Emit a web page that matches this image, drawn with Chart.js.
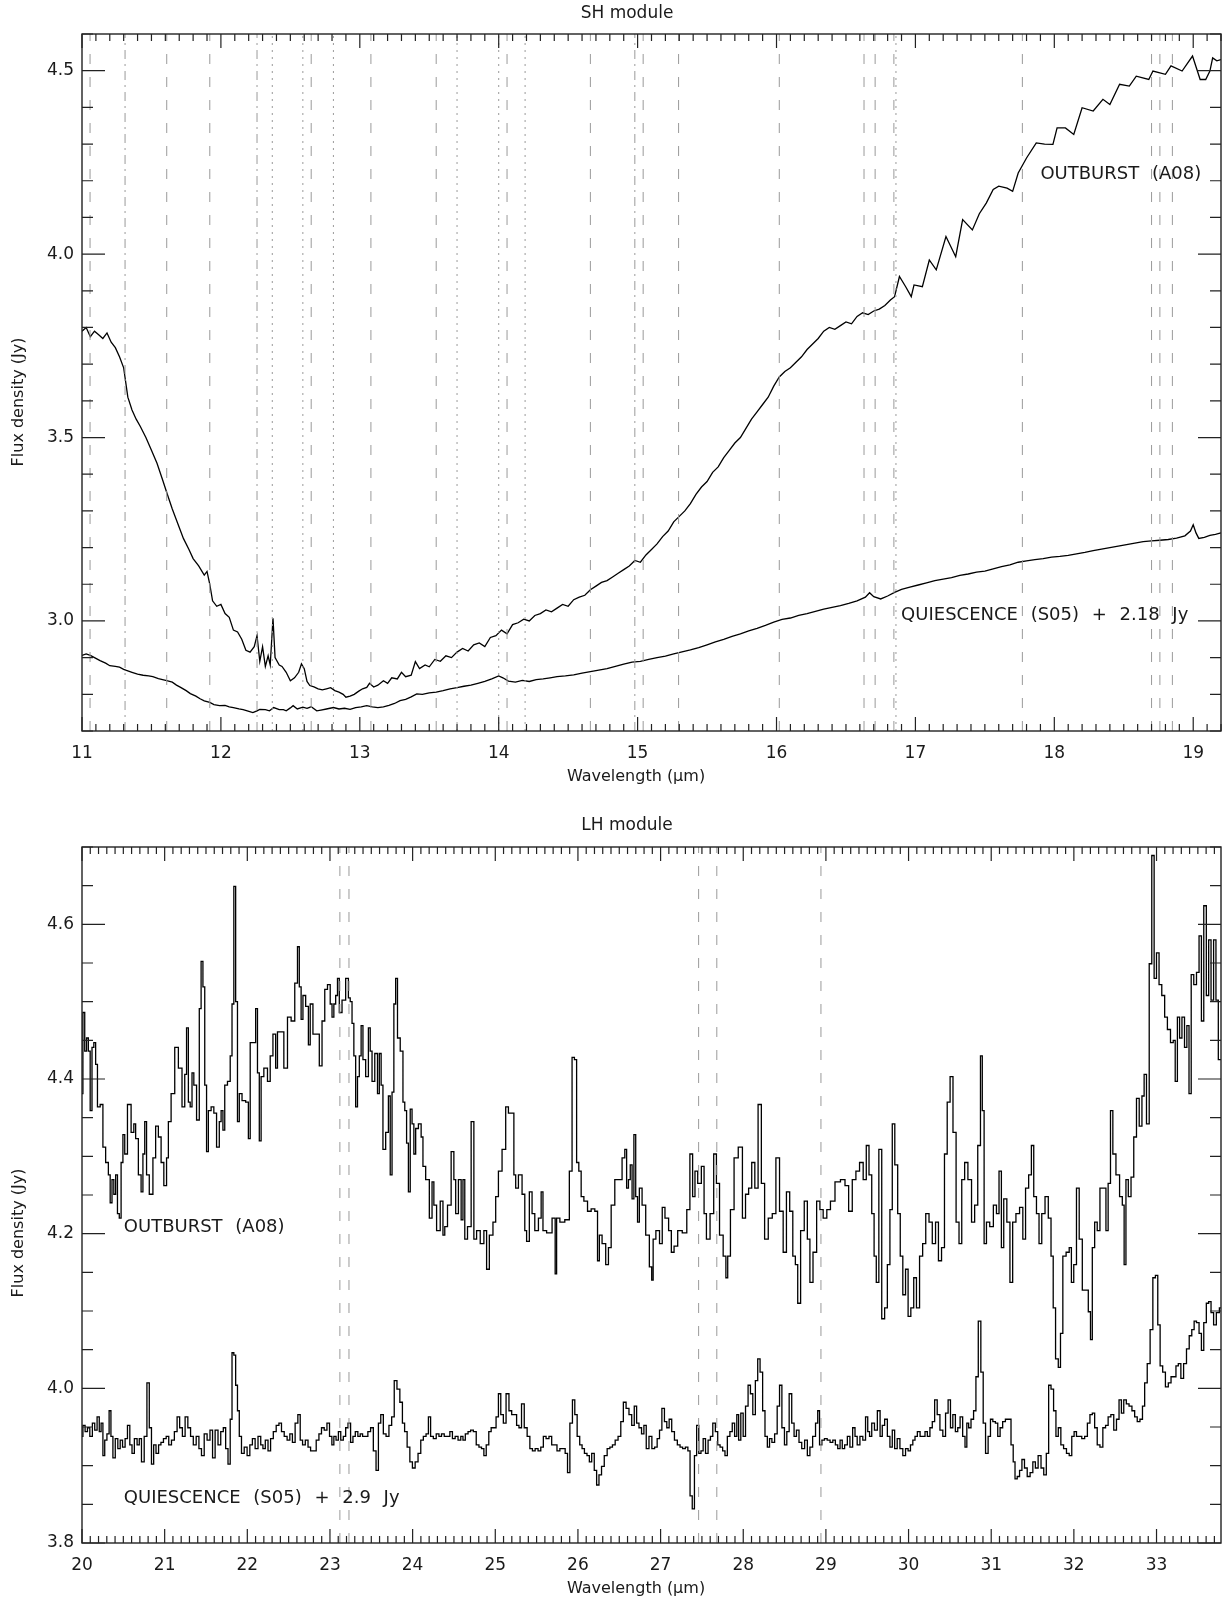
<!DOCTYPE html>
<html>
<head>
<meta charset="utf-8">
<script src="https://cdn.jsdelivr.net/npm/chart.js@4.4.0/dist/chart.umd.min.js"></script>
<style>
  body { margin: 0; background: #fff; width: 1222px; height: 1606px; overflow: hidden; }
  .box { position: absolute; left: 0; width: 1222px; }
</style>
</head>
<body>
<div class="box" style="top:0;height:800px"><canvas id="shChart" width="1222" height="800"></canvas></div>
<div class="box" style="top:800px;height:806px"><canvas id="lhChart" width="1222" height="806"></canvas></div>
<script>
// axis ranges and tick labels
const shWaveRange = [11, 19.2];
const shFluxRange = [2.7, 4.6];
const shWaveTicks = [11, 12, 13, 14, 15, 16, 17, 18, 19];
const shFluxTicks = [3.0, 3.5, 4.0, 4.5];
const lhWaveRange = [20, 33.78];
const lhFluxRange = [3.8, 4.7];
const lhWaveTicks = [20, 21, 22, 23, 24, 25, 26, 27, 28, 29, 30, 31, 32, 33];
const lhFluxTicks = [3.8, 4.0, 4.2, 4.4, 4.6];

// line identifications (wavelength, style)
const shLines = [
  [11.058, 'dash'], [11.31, 'dashdot'], [11.61, 'dash'], [11.92, 'dash'], [12.26, 'dashdot'],
  [12.37, 'dot'], [12.59, 'dot'], [12.65, 'dash'], [12.81, 'dot'], [13.08, 'dash'],
  [13.55, 'dash'], [13.70, 'dot'], [14.00, 'dot'], [14.06, 'dash'], [14.19, 'dot'],
  [14.66, 'dash'], [14.98, 'dashdot'], [15.04, 'dash'], [15.295, 'dash'], [16.02, 'dash'],
  [16.63, 'dash'], [16.71, 'dash'], [16.845, 'dash'], [16.86, 'dot'], [17.77, 'dash'],
  [18.70, 'dash'], [18.76, 'dash'], [18.85, 'dash']
];
const lhLines = [[23.12, 'dash'], [23.23, 'dash'], [27.46, 'dash'], [27.68, 'dash'], [28.94, 'dash']];

// SH module, outburst (A08)
const shOutburst = [
  [11.00,3.790],[11.03,3.800],[11.06,3.775],[11.09,3.790],[11.12,3.780],[11.15,3.770],[11.18,3.785],[11.21,3.760],
  [11.24,3.745],[11.27,3.720],[11.30,3.690],[11.33,3.610],[11.36,3.575],[11.39,3.550],[11.42,3.530],[11.46,3.500],
  [11.50,3.465],[11.54,3.430],[11.58,3.385],[11.61,3.350],[11.65,3.305],[11.69,3.265],[11.73,3.225],[11.77,3.195],
  [11.80,3.170],[11.84,3.150],[11.88,3.125],[11.90,3.135],[11.92,3.100],[11.94,3.055],[11.97,3.040],[12.00,3.045],
  [12.03,3.020],[12.06,3.010],[12.09,2.975],[12.12,2.970],[12.15,2.950],[12.18,2.920],[12.21,2.915],[12.24,2.930],
  [12.26,2.960],[12.28,2.890],[12.30,2.930],[12.32,2.876],[12.34,2.905],[12.355,2.880],[12.375,3.007],[12.39,2.900],
  [12.42,2.880],[12.44,2.876],[12.47,2.860],[12.50,2.837],[12.53,2.845],[12.56,2.860],[12.58,2.883],[12.60,2.870],
  [12.62,2.835],[12.64,2.824],[12.67,2.820],[12.70,2.815],[12.73,2.812],[12.76,2.815],[12.79,2.818],[12.82,2.810],
  [12.85,2.806],[12.88,2.800],[12.90,2.792],[12.93,2.795],[12.96,2.800],[12.99,2.808],[13.02,2.815],[13.05,2.819],
  [13.07,2.830],[13.10,2.820],[13.13,2.825],[13.17,2.837],[13.20,2.830],[13.23,2.845],[13.27,2.842],[13.30,2.860],
  [13.33,2.848],[13.37,2.852],[13.40,2.889],[13.43,2.870],[13.47,2.880],[13.50,2.875],[13.54,2.895],[13.58,2.890],
  [13.62,2.905],[13.66,2.900],[13.70,2.915],[13.74,2.925],[13.78,2.918],[13.82,2.935],[13.86,2.940],[13.90,2.930],
  [13.94,2.955],[13.98,2.960],[14.02,2.975],[14.06,2.965],[14.10,2.990],[14.14,2.995],[14.18,3.005],[14.22,3.000],
  [14.26,3.015],[14.30,3.020],[14.34,3.030],[14.38,3.025],[14.42,3.035],[14.46,3.045],[14.50,3.040],[14.54,3.058],
  [14.58,3.065],[14.62,3.070],[14.66,3.085],[14.70,3.095],[14.74,3.105],[14.78,3.110],[14.82,3.120],[14.86,3.130],
  [14.90,3.140],[14.94,3.150],[14.98,3.165],[15.02,3.160],[15.06,3.180],[15.10,3.195],[15.14,3.210],[15.18,3.230],
  [15.22,3.245],[15.26,3.270],[15.30,3.285],[15.34,3.300],[15.38,3.320],[15.42,3.345],[15.46,3.365],[15.50,3.380],
  [15.54,3.405],[15.58,3.420],[15.62,3.445],[15.66,3.465],[15.70,3.485],[15.74,3.500],[15.78,3.525],[15.82,3.550],
  [15.86,3.570],[15.90,3.590],[15.94,3.610],[15.98,3.640],[16.02,3.665],[16.06,3.680],[16.10,3.690],[16.14,3.705],
  [16.18,3.720],[16.22,3.740],[16.26,3.755],[16.30,3.770],[16.34,3.790],[16.38,3.800],[16.42,3.795],[16.46,3.805],
  [16.50,3.815],[16.54,3.810],[16.58,3.830],[16.62,3.840],[16.66,3.835],[16.70,3.845],[16.74,3.850],[16.78,3.860],
  [16.82,3.875],[16.85,3.884],[16.885,3.939],[16.93,3.911],[16.97,3.884],[16.99,3.916],[17.05,3.911],[17.10,3.984],
  [17.15,3.957],[17.22,4.048],[17.29,3.993],[17.34,4.094],[17.41,4.066],[17.46,4.110],[17.51,4.139],[17.56,4.176],
  [17.60,4.185],[17.66,4.180],[17.70,4.171],[17.74,4.221],[17.80,4.262],[17.87,4.303],[17.93,4.300],[17.99,4.299],
  [18.02,4.344],[18.08,4.344],[18.14,4.326],[18.20,4.399],[18.28,4.390],[18.35,4.422],[18.40,4.408],[18.47,4.463],
  [18.54,4.458],[18.59,4.485],[18.68,4.476],[18.71,4.499],[18.80,4.490],[18.84,4.513],[18.92,4.499],[18.995,4.540],
  [19.03,4.499],[19.05,4.476],[19.09,4.476],[19.12,4.499],[19.14,4.535],[19.17,4.527],[19.20,4.530]
];

// SH module, quiescence (S05) + 2.18 Jy
const shQuiescence = [
  [11.00,2.906],[11.03,2.910],[11.06,2.906],[11.10,2.898],[11.13,2.892],[11.17,2.885],[11.20,2.878],[11.24,2.876],
  [11.27,2.874],[11.30,2.868],[11.32,2.865],[11.36,2.860],[11.40,2.855],[11.44,2.852],[11.48,2.850],[11.51,2.848],
  [11.55,2.843],[11.58,2.840],[11.61,2.837],[11.65,2.833],[11.68,2.825],[11.71,2.819],[11.75,2.810],[11.78,2.802],
  [11.82,2.795],[11.85,2.788],[11.88,2.782],[11.92,2.778],[11.95,2.772],[11.99,2.769],[12.03,2.770],[12.06,2.766],
  [12.09,2.764],[12.13,2.760],[12.16,2.758],[12.19,2.755],[12.23,2.750],[12.26,2.755],[12.28,2.759],[12.32,2.758],
  [12.35,2.755],[12.38,2.764],[12.42,2.758],[12.45,2.758],[12.47,2.755],[12.50,2.763],[12.52,2.769],[12.55,2.760],
  [12.59,2.765],[12.62,2.762],[12.65,2.766],[12.69,2.755],[12.72,2.757],[12.76,2.760],[12.81,2.764],[12.85,2.760],
  [12.89,2.762],[12.93,2.759],[12.97,2.764],[13.01,2.766],[13.05,2.769],[13.09,2.766],[13.13,2.764],[13.17,2.766],
  [13.21,2.770],[13.25,2.775],[13.29,2.783],[13.33,2.786],[13.37,2.793],[13.41,2.801],[13.45,2.800],[13.50,2.804],
  [13.55,2.806],[13.60,2.810],[13.65,2.815],[13.70,2.818],[13.75,2.822],[13.80,2.825],[13.85,2.830],[13.90,2.835],
  [13.95,2.842],[14.00,2.850],[14.03,2.845],[14.07,2.836],[14.12,2.833],[14.17,2.838],[14.22,2.835],[14.27,2.840],
  [14.32,2.842],[14.37,2.845],[14.42,2.848],[14.48,2.850],[14.54,2.853],[14.60,2.858],[14.66,2.862],[14.72,2.866],
  [14.78,2.870],[14.84,2.876],[14.90,2.882],[14.96,2.888],[15.02,2.890],[15.08,2.895],[15.14,2.900],[15.20,2.904],
  [15.26,2.910],[15.32,2.916],[15.38,2.921],[15.44,2.927],[15.50,2.935],[15.56,2.943],[15.62,2.950],[15.68,2.958],
  [15.74,2.965],[15.80,2.973],[15.86,2.980],[15.92,2.988],[15.98,2.997],[16.04,3.004],[16.10,3.008],[16.16,3.015],
  [16.22,3.020],[16.28,3.026],[16.34,3.032],[16.40,3.037],[16.46,3.042],[16.52,3.048],[16.58,3.055],[16.64,3.065],
  [16.67,3.077],[16.70,3.066],[16.75,3.060],[16.80,3.068],[16.85,3.078],[16.90,3.086],[16.96,3.092],[17.02,3.098],
  [17.08,3.104],[17.14,3.110],[17.20,3.114],[17.26,3.118],[17.32,3.124],[17.38,3.128],[17.44,3.133],[17.50,3.136],
  [17.56,3.142],[17.62,3.148],[17.68,3.153],[17.74,3.160],[17.80,3.164],[17.86,3.167],[17.92,3.170],[17.98,3.174],
  [18.04,3.176],[18.10,3.179],[18.16,3.183],[18.22,3.187],[18.28,3.192],[18.34,3.196],[18.40,3.200],[18.46,3.204],
  [18.52,3.208],[18.58,3.212],[18.64,3.216],[18.70,3.218],[18.76,3.220],[18.82,3.222],[18.88,3.226],[18.94,3.232],
  [18.98,3.245],[19.00,3.262],[19.02,3.240],[19.04,3.225],[19.08,3.228],[19.12,3.233],[19.16,3.236],[19.20,3.240]
];

// LH module, outburst (A08)
const lhOutburst = [
  [20.000,4.381],[20.022,4.486],[20.044,4.436],[20.066,4.453],[20.088,4.436],[20.110,4.359],[20.132,4.441],[20.154,4.447],
  [20.176,4.419],[20.198,4.364],[20.242,4.367],[20.264,4.312],[20.308,4.292],[20.330,4.276],[20.352,4.240],[20.374,4.270],
  [20.396,4.251],[20.418,4.276],[20.440,4.226],[20.462,4.220],[20.484,4.292],[20.506,4.328],[20.528,4.303],[20.572,4.367],
  [20.616,4.331],[20.638,4.342],[20.660,4.323],[20.704,4.276],[20.726,4.254],[20.748,4.303],[20.770,4.345],[20.792,4.276],
  [20.836,4.251],[20.880,4.298],[20.902,4.339],[20.946,4.325],[20.968,4.292],[21.012,4.262],[21.034,4.298],[21.056,4.345],
  [21.100,4.381],[21.144,4.441],[21.188,4.414],[21.232,4.364],[21.254,4.406],[21.276,4.466],[21.298,4.370],[21.320,4.364],
  [21.342,4.408],[21.364,4.392],[21.408,4.347],[21.430,4.491],[21.452,4.552],[21.474,4.519],[21.496,4.392],[21.518,4.306],
  [21.540,4.359],[21.584,4.364],[21.606,4.356],[21.650,4.312],[21.672,4.345],[21.694,4.359],[21.716,4.334],[21.738,4.392],
  [21.782,4.397],[21.804,4.430],[21.826,4.497],[21.848,4.649],[21.870,4.500],[21.892,4.345],[21.914,4.381],[21.958,4.372],
  [22.002,4.370],[22.024,4.323],[22.046,4.447],[22.090,4.447],[22.112,4.491],[22.134,4.408],[22.156,4.320],[22.178,4.403],
  [22.222,4.414],[22.266,4.397],[22.288,4.430],[22.332,4.458],[22.354,4.414],[22.376,4.461],[22.420,4.461],[22.464,4.414],
  [22.508,4.480],[22.552,4.475],[22.596,4.524],[22.618,4.571],[22.640,4.519],[22.662,4.477],[22.684,4.508],[22.728,4.494],
  [22.750,4.444],[22.772,4.497],[22.816,4.458],[22.860,4.458],[22.882,4.417],[22.926,4.475],[22.948,4.516],[22.992,4.522],
  [23.014,4.497],[23.036,4.480],[23.058,4.497],[23.080,4.508],[23.102,4.530],[23.124,4.486],[23.168,4.502],[23.212,4.530],
  [23.234,4.505],[23.256,4.500],[23.278,4.472],[23.300,4.430],[23.322,4.364],[23.344,4.403],[23.366,4.430],[23.388,4.469],
  [23.410,4.425],[23.454,4.403],[23.476,4.466],[23.498,4.436],[23.520,4.397],[23.564,4.433],[23.586,4.381],[23.608,4.433],
  [23.630,4.392],[23.652,4.309],[23.696,4.331],[23.718,4.378],[23.740,4.276],[23.762,4.383],[23.784,4.497],[23.806,4.530],
  [23.828,4.453],[23.872,4.436],[23.894,4.370],[23.916,4.359],[23.938,4.317],[23.960,4.254],[23.982,4.361],[24.004,4.342],
  [24.026,4.303],[24.048,4.336],[24.092,4.342],[24.114,4.325],[24.136,4.287],[24.180,4.270],[24.224,4.220],[24.246,4.267],
  [24.268,4.237],[24.312,4.204],[24.356,4.242],[24.378,4.198],[24.400,4.209],[24.444,4.237],[24.488,4.306],[24.510,4.270],
  [24.532,4.226],[24.576,4.270],[24.598,4.218],[24.620,4.270],[24.642,4.193],[24.686,4.209],[24.730,4.345],[24.752,4.193],
  [24.796,4.204],[24.840,4.187],[24.884,4.204],[24.906,4.154],[24.950,4.198],[24.994,4.215],[25.016,4.248],[25.060,4.281],
  [25.104,4.309],[25.148,4.364],[25.170,4.356],[25.214,4.356],[25.236,4.276],[25.258,4.259],[25.302,4.276],[25.346,4.251],
  [25.368,4.204],[25.390,4.190],[25.434,4.254],[25.456,4.226],[25.500,4.204],[25.544,4.220],[25.566,4.254],[25.588,4.204],
  [25.654,4.201],[25.720,4.220],[25.729,4.148],[25.755,4.220],[25.808,4.215],[25.874,4.218],[25.918,4.281],[25.940,4.428],
  [25.975,4.425],[25.993,4.292],[26.028,4.281],[26.050,4.248],[26.094,4.242],[26.138,4.229],[26.182,4.232],[26.226,4.229],
  [26.248,4.165],[26.270,4.198],[26.314,4.187],[26.358,4.160],[26.380,4.182],[26.424,4.237],[26.468,4.270],[26.512,4.270],
  [26.556,4.298],[26.578,4.309],[26.600,4.259],[26.622,4.270],[26.644,4.289],[26.666,4.245],[26.688,4.328],[26.710,4.248],
  [26.732,4.215],[26.754,4.259],[26.798,4.237],[26.842,4.198],[26.886,4.157],[26.899,4.140],[26.921,4.193],[26.965,4.204],
  [27.009,4.187],[27.031,4.234],[27.075,4.220],[27.119,4.204],[27.141,4.176],[27.185,4.184],[27.229,4.204],[27.295,4.201],
  [27.339,4.231],[27.370,4.303],[27.405,4.248],[27.427,4.281],[27.471,4.265],[27.515,4.287],[27.537,4.226],[27.572,4.193],
  [27.625,4.226],[27.660,4.303],[27.691,4.265],[27.735,4.198],[27.779,4.171],[27.801,4.143],[27.823,4.171],[27.867,4.231],
  [27.911,4.298],[27.968,4.312],[28.012,4.220],[28.043,4.251],[28.087,4.259],[28.118,4.292],[28.162,4.259],[28.197,4.367],
  [28.241,4.265],[28.276,4.193],[28.329,4.220],[28.373,4.226],[28.417,4.298],[28.461,4.229],[28.505,4.176],[28.540,4.254],
  [28.584,4.229],[28.615,4.171],[28.646,4.160],[28.672,4.110],[28.716,4.204],[28.760,4.242],[28.791,4.193],[28.822,4.137],
  [28.866,4.176],[28.910,4.242],[28.945,4.231],[28.989,4.220],[29.033,4.231],[29.077,4.242],[29.143,4.267],[29.209,4.270],
  [29.253,4.262],[29.297,4.229],[29.341,4.270],[29.385,4.281],[29.429,4.292],[29.473,4.270],[29.504,4.314],[29.539,4.276],
  [29.570,4.226],[29.596,4.171],[29.623,4.137],[29.658,4.309],[29.693,4.090],[29.728,4.104],[29.759,4.160],[29.790,4.231],
  [29.816,4.342],[29.851,4.289],[29.886,4.226],[29.913,4.171],[29.948,4.121],[29.979,4.154],[30.010,4.093],[30.045,4.104],
  [30.080,4.143],[30.111,4.104],[30.155,4.171],[30.186,4.187],[30.230,4.226],[30.265,4.215],[30.309,4.187],[30.344,4.215],
  [30.379,4.165],[30.419,4.182],[30.450,4.303],[30.485,4.370],[30.520,4.403],[30.555,4.331],[30.595,4.215],[30.626,4.187],
  [30.661,4.270],[30.696,4.292],[30.740,4.270],[30.784,4.215],[30.815,4.237],[30.859,4.314],[30.881,4.430],[30.903,4.359],
  [30.925,4.187],[30.960,4.215],[31.004,4.209],[31.048,4.237],[31.079,4.226],[31.110,4.281],[31.136,4.182],[31.167,4.245],
  [31.211,4.215],[31.242,4.137],[31.277,4.215],[31.321,4.226],[31.365,4.234],[31.400,4.193],[31.431,4.259],[31.475,4.276],
  [31.497,4.314],[31.532,4.248],[31.563,4.226],[31.594,4.187],[31.629,4.226],[31.673,4.248],[31.708,4.220],[31.739,4.171],
  [31.761,4.104],[31.796,4.038],[31.827,4.027],[31.849,4.071],[31.884,4.171],[31.928,4.176],[31.959,4.182],[31.981,4.137],
  [32.016,4.160],[32.047,4.259],[32.082,4.193],[32.122,4.127],[32.157,4.127],[32.192,4.099],[32.210,4.063],[32.236,4.182],
  [32.267,4.215],[32.298,4.204],[32.333,4.259],[32.377,4.259],[32.399,4.204],[32.430,4.265],[32.456,4.359],[32.487,4.303],
  [32.531,4.276],[32.575,4.248],[32.597,4.237],[32.619,4.160],[32.641,4.270],[32.676,4.248],[32.707,4.273],[32.742,4.325],
  [32.773,4.375],[32.808,4.339],[32.839,4.378],[32.861,4.406],[32.896,4.342],[32.927,4.549],[32.958,4.689],[32.984,4.530],
  [33.015,4.563],[33.046,4.522],[33.081,4.508],[33.116,4.480],[33.147,4.464],[33.191,4.447],[33.213,4.450],[33.239,4.397],
  [33.266,4.480],[33.292,4.453],[33.323,4.480],[33.354,4.441],[33.380,4.469],[33.406,4.381],[33.433,4.535],[33.468,4.522],
  [33.499,4.538],[33.530,4.585],[33.556,4.475],[33.587,4.624],[33.618,4.508],[33.644,4.580],[33.675,4.502],[33.706,4.580],
  [33.732,4.502],[33.763,4.425],[33.780,4.425]
];

// LH module, quiescence (S05) + 2.9 Jy
const lhQuiescence = [
  [20.000,3.938],[20.022,3.952],[20.053,3.944],[20.079,3.949],[20.110,3.938],[20.141,3.955],[20.167,3.946],[20.198,3.963],
  [20.220,3.944],[20.242,3.955],[20.264,3.913],[20.286,3.933],[20.317,3.941],[20.339,3.971],[20.361,3.938],[20.387,3.910],
  [20.418,3.935],[20.449,3.922],[20.475,3.933],[20.506,3.924],[20.537,3.935],[20.563,3.952],[20.594,3.927],[20.616,3.916],
  [20.651,3.935],[20.682,3.927],[20.704,3.935],[20.735,3.905],[20.770,3.938],[20.801,4.007],[20.827,3.949],[20.854,3.902],
  [20.880,3.927],[20.911,3.916],[20.942,3.927],[20.968,3.930],[21.003,3.935],[21.034,3.938],[21.065,3.927],[21.100,3.933],
  [21.135,3.944],[21.166,3.963],[21.197,3.949],[21.232,3.938],[21.263,3.963],[21.298,3.949],[21.329,3.938],[21.364,3.927],
  [21.399,3.938],[21.430,3.922],[21.461,3.913],[21.496,3.941],[21.531,3.933],[21.566,3.946],[21.593,3.910],[21.628,3.946],
  [21.663,3.927],[21.694,3.944],[21.725,3.949],[21.751,3.922],[21.782,3.902],[21.804,3.960],[21.826,4.046],[21.848,4.043],
  [21.870,4.004],[21.892,3.971],[21.914,3.938],[21.945,3.916],[21.980,3.924],[22.015,3.913],[22.046,3.927],[22.077,3.935],
  [22.112,3.922],[22.147,3.938],[22.178,3.927],[22.200,3.922],[22.235,3.933],[22.266,3.919],[22.297,3.935],[22.332,3.944],
  [22.367,3.952],[22.398,3.955],[22.429,3.944],[22.464,3.938],[22.499,3.933],[22.530,3.941],[22.561,3.930],[22.596,3.955],
  [22.627,3.966],[22.653,3.933],[22.684,3.927],[22.719,3.933],[22.750,3.924],[22.781,3.919],[22.816,3.919],[22.851,3.933],
  [22.882,3.941],[22.913,3.949],[22.948,3.946],[22.979,3.955],[23.010,3.938],[23.036,3.927],[23.058,3.938],[23.089,3.933],
  [23.115,3.944],[23.146,3.933],[23.177,3.938],[23.203,3.949],[23.234,3.955],[23.265,3.930],[23.291,3.938],[23.322,3.944],
  [23.353,3.938],[23.379,3.941],[23.410,3.938],[23.441,3.938],[23.476,3.944],[23.507,3.949],[23.542,3.919],[23.573,3.894],
  [23.599,3.955],[23.630,3.966],[23.661,3.941],[23.696,3.938],[23.731,3.952],[23.762,3.963],[23.793,4.010],[23.828,3.999],
  [23.863,3.982],[23.890,3.955],[23.916,3.944],[23.951,3.924],[23.982,3.905],[24.013,3.897],[24.048,3.905],[24.083,3.916],
  [24.114,3.933],[24.145,3.938],[24.180,3.941],[24.202,3.963],[24.233,3.938],[24.268,3.935],[24.303,3.941],[24.334,3.938],
  [24.365,3.941],[24.400,3.938],[24.435,3.938],[24.466,3.944],[24.497,3.935],[24.532,3.938],[24.567,3.933],[24.598,3.938],
  [24.620,3.933],[24.655,3.941],[24.686,3.944],[24.717,3.946],[24.752,3.944],[24.787,3.927],[24.818,3.924],[24.849,3.922],
  [24.875,3.913],[24.906,3.927],[24.937,3.944],[24.963,3.949],[24.994,3.949],[25.025,3.963],[25.051,3.993],[25.082,3.966],
  [25.113,3.955],[25.148,3.993],[25.183,3.971],[25.214,3.966],[25.245,3.966],[25.271,3.952],[25.302,3.949],[25.333,3.980],
  [25.368,3.949],[25.403,3.938],[25.434,3.922],[25.465,3.919],[25.500,3.922],[25.535,3.919],[25.566,3.924],[25.597,3.938],
  [25.632,3.935],[25.667,3.938],[25.698,3.927],[25.729,3.927],[25.764,3.919],[25.799,3.922],[25.830,3.922],[25.861,3.916],
  [25.887,3.891],[25.918,3.955],[25.949,3.985],[25.975,3.966],[26.006,3.938],[26.037,3.927],[26.063,3.922],[26.094,3.916],
  [26.125,3.913],[26.151,3.905],[26.182,3.916],[26.213,3.894],[26.239,3.875],[26.270,3.888],[26.301,3.899],[26.336,3.913],
  [26.371,3.922],[26.402,3.924],[26.433,3.927],[26.468,3.933],[26.503,3.938],[26.534,3.957],[26.565,3.982],[26.600,3.974],
  [26.635,3.966],[26.666,3.952],[26.697,3.977],[26.723,3.955],[26.754,3.949],[26.785,3.941],[26.811,3.952],[26.842,3.922],
  [26.877,3.938],[26.912,3.922],[26.943,3.924],[26.974,3.935],[27.000,3.946],[27.031,3.974],[27.062,3.957],[27.088,3.949],
  [27.119,3.960],[27.150,3.944],[27.185,3.933],[27.220,3.927],[27.251,3.924],[27.282,3.922],[27.317,3.924],[27.343,3.919],
  [27.370,3.861],[27.396,3.844],[27.423,3.913],[27.449,3.952],[27.475,3.916],[27.502,3.919],[27.528,3.935],[27.559,3.916],
  [27.590,3.933],[27.616,3.938],[27.647,3.955],[27.678,3.944],[27.704,3.927],[27.735,3.924],[27.766,3.919],[27.792,3.913],
  [27.823,3.938],[27.854,3.944],[27.880,3.955],[27.911,3.938],[27.933,3.966],[27.955,3.933],[27.986,3.968],[28.012,3.938],
  [28.043,3.977],[28.074,4.004],[28.100,3.993],[28.131,3.966],[28.162,4.010],[28.188,4.038],[28.219,4.021],[28.250,3.971],
  [28.276,3.938],[28.307,3.924],[28.329,3.935],[28.364,3.930],[28.395,3.941],[28.426,3.977],[28.452,4.004],[28.483,3.949],
  [28.514,3.927],[28.540,3.944],[28.571,3.993],[28.602,3.955],[28.628,3.938],[28.659,3.946],[28.690,3.930],[28.725,3.922],
  [28.760,3.933],[28.791,3.913],[28.822,3.924],[28.857,3.938],[28.892,3.955],[28.910,3.971],[28.936,3.927],[28.967,3.933],
  [28.998,3.935],[29.033,3.933],[29.068,3.930],[29.099,3.933],[29.130,3.927],[29.156,3.922],[29.187,3.933],[29.209,3.922],
  [29.244,3.927],[29.275,3.938],[29.306,3.924],[29.341,3.949],[29.363,3.938],[29.394,3.927],[29.429,3.938],[29.464,3.933],
  [29.495,3.963],[29.517,3.944],[29.539,3.938],[29.570,3.955],[29.605,3.946],[29.640,3.971],[29.671,3.938],[29.693,3.952],
  [29.728,3.960],[29.759,3.938],[29.790,3.924],[29.816,3.946],[29.847,3.922],[29.878,3.935],[29.913,3.922],[29.948,3.913],
  [29.979,3.922],[30.010,3.919],[30.036,3.927],[30.067,3.933],[30.089,3.938],[30.124,3.944],[30.155,3.938],[30.186,3.938],
  [30.212,3.944],[30.243,3.938],[30.274,3.949],[30.300,3.957],[30.331,3.985],[30.362,3.966],[30.397,3.946],[30.432,3.938],
  [30.463,3.968],[30.494,3.985],[30.520,3.949],[30.551,3.966],[30.582,3.944],[30.608,3.949],[30.639,3.963],[30.670,3.938],
  [30.696,3.924],[30.714,3.955],[30.740,3.949],[30.771,3.960],[30.802,3.971],[30.828,4.015],[30.859,4.087],[30.890,4.021],
  [30.916,3.955],[30.947,3.916],[30.978,3.938],[31.004,3.960],[31.035,3.957],[31.066,3.955],[31.092,3.938],[31.123,3.949],
  [31.154,3.957],[31.189,3.960],[31.224,3.960],[31.255,3.927],[31.277,3.905],[31.299,3.883],[31.330,3.886],[31.356,3.894],
  [31.387,3.908],[31.418,3.897],[31.453,3.886],[31.488,3.891],[31.519,3.905],[31.550,3.897],[31.585,3.913],[31.620,3.897],
  [31.651,3.888],[31.682,3.916],[31.708,4.004],[31.739,3.999],[31.770,3.971],[31.796,3.938],[31.827,3.949],[31.858,3.927],
  [31.893,3.922],[31.928,3.916],[31.959,3.913],[31.990,3.938],[32.016,3.944],[32.047,3.938],[32.078,3.938],[32.113,3.935],
  [32.148,3.938],[32.179,3.955],[32.210,3.966],[32.236,3.968],[32.267,3.949],[32.298,3.927],[32.333,3.924],[32.368,3.949],
  [32.399,3.952],[32.430,3.963],[32.465,3.966],[32.500,3.946],[32.531,3.960],[32.562,3.985],[32.588,3.968],[32.619,3.985],
  [32.650,3.980],[32.685,3.977],[32.720,3.971],[32.751,3.963],[32.782,3.957],[32.817,3.960],[32.843,3.977],[32.870,4.007],
  [32.905,4.032],[32.940,4.076],[32.971,4.143],[33.002,4.146],[33.028,4.082],[33.059,4.029],[33.090,4.021],[33.125,4.002],
  [33.160,4.007],[33.191,4.015],[33.222,4.015],[33.248,4.029],[33.279,4.032],[33.310,4.013],[33.345,4.032],[33.380,4.051],
  [33.411,4.068],[33.442,4.076],[33.468,4.087],[33.499,4.085],[33.530,4.071],[33.556,4.049],[33.587,4.085],[33.618,4.110],
  [33.644,4.112],[33.675,4.098],[33.706,4.082],[33.741,4.098],[33.780,4.104]
];

const FONT = '"DejaVu Sans", sans-serif';
const INK = '#1a1a1a';
const dashStyles = { dash: [10, 13], dashdot: [9, 5, 2, 5], dot: [2, 5] };

function markerSets(lines, yr) {
  return lines.map(l => ({
    data: [{ x: l[0], y: yr[0] }, { x: l[0], y: yr[1] }],
    borderColor: '#9a9a9a',
    borderWidth: 1,
    borderDash: dashStyles[l[1]],
    pointRadius: 0,
    tension: 0
  }));
}

// SH spectra are finely binned (drawn as a jagged line), LH ones as a histogram
function spectrum(points, stepped) {
  return {
    data: points.map(p => ({ x: p[0], y: p[1] })),
    borderColor: '#000',
    borderWidth: 1.3,
    pointRadius: 0,
    tension: 0,
    stepped: stepped ? 'middle' : false
  };
}

// frame with inward ticks on all four sides, plus the texts of the panel
const idlFrame = {
  id: 'idlFrame',
  afterDatasetsDraw(chart, args, o) {
    const { ctx, chartArea: a, scales: { x, y } } = chart;
    ctx.save();
    ctx.strokeStyle = '#222';
    ctx.lineWidth = 1.4;
    ctx.strokeRect(a.left, a.top, a.right - a.left, a.bottom - a.top);
    ctx.lineWidth = 1.2;
    ctx.beginPath();
    for (let i = Math.ceil(x.min / o.xMinor - 1e-6); i * o.xMinor <= x.max + 1e-6; i++) {
      const v = i * o.xMinor;
      const major = Math.abs(v / o.xMajor - Math.round(v / o.xMajor)) < 1e-6;
      const len = major ? 14 : 7;
      const px = x.getPixelForValue(v);
      ctx.moveTo(px, a.bottom); ctx.lineTo(px, a.bottom - len);
      ctx.moveTo(px, a.top); ctx.lineTo(px, a.top + len);
    }
    for (let i = Math.ceil(y.min / o.yMinor - 1e-6); i * o.yMinor <= y.max + 1e-6; i++) {
      const v = i * o.yMinor;
      const major = Math.abs(v / o.yMajor - Math.round(v / o.yMajor)) < 1e-6;
      const len = major ? 23 : 11;
      const py = y.getPixelForValue(v);
      ctx.moveTo(a.left, py); ctx.lineTo(a.left + len, py);
      ctx.moveTo(a.right, py); ctx.lineTo(a.right - len, py);
    }
    ctx.stroke();

    ctx.fillStyle = INK;
    ctx.textBaseline = 'middle';
    ctx.textAlign = 'center';
    ctx.font = '17px ' + FONT;
    ctx.fillText(o.title, 627, o.titleY);
    ctx.font = '16px ' + FONT;
    ctx.fillText('Wavelength (\u03bcm)', 636, a.bottom + 46);
    ctx.save();
    ctx.translate(18.5, o.yTitleY);
    ctx.rotate(-Math.PI / 2);
    ctx.fillText('Flux density (Jy)', 0, 0);
    ctx.restore();

    ctx.font = '18px ' + FONT;
    ctx.textAlign = 'left';
    if ('wordSpacing' in ctx) ctx.wordSpacing = '7px';
    o.labels.forEach(l => {
      ctx.fillText(l.text, x.getPixelForValue(l.x), y.getPixelForValue(l.y));
    });
    ctx.restore();
  }
};

function makeChart(id, cfg) {
  const canvas = document.getElementById(id);
  return new Chart(canvas.getContext('2d'), {
    type: 'line',
    data: { datasets: markerSets(cfg.lines, cfg.yRange).concat(cfg.series.map(s => spectrum(s, cfg.stepped))) },
    options: {
      responsive: false,
      animation: false,
      devicePixelRatio: 1,
      layout: { padding: { top: cfg.top, right: 1, left: 0, bottom: 0 } },
      plugins: {
        legend: { display: false },
        tooltip: { enabled: false },
        idlFrame: cfg.frame
      },
      scales: {
        x: {
          type: 'linear',
          min: cfg.xRange[0],
          max: cfg.xRange[1],
          grid: { display: false, drawTicks: false },
          border: { display: false },
          ticks: { color: INK, font: { family: FONT, size: 17 }, padding: 12, maxRotation: 0, autoSkip: false,
                   callback: v => String(v) },
          afterBuildTicks: s => { s.ticks = cfg.xTicks.map(v => ({ value: v })); },
          afterFit: s => { s.height = canvas.height - cfg.bottom; }
        },
        y: {
          type: 'linear',
          min: cfg.yRange[0],
          max: cfg.yRange[1],
          grid: { display: false, drawTicks: false },
          border: { display: false },
          ticks: { color: INK, font: { family: FONT, size: 17 }, padding: 8,
                   callback: v => Number(v).toFixed(1) },
          afterBuildTicks: s => { s.ticks = cfg.yTicks.map(v => ({ value: v })); },
          afterFit: s => { s.width = 82; }
        }
      }
    },
    plugins: [idlFrame]
  });
}

makeChart('shChart', {
  top: 34, bottom: 731, stepped: false,
  xRange: shWaveRange, yRange: shFluxRange, xTicks: shWaveTicks, yTicks: shFluxTicks,
  lines: shLines,
  series: [shOutburst, shQuiescence],
  frame: {
    xMajor: 1, xMinor: 0.1, yMajor: 0.5, yMinor: 0.1,
    title: 'SH module', titleY: 14, yTitleY: 402,
    labels: [
      { text: 'OUTBURST (A08)', x: 17.90, y: 4.217 },
      { text: 'QUIESCENCE (S05) + 2.18 Jy', x: 16.897, y: 3.015 }
    ]
  }
});

makeChart('lhChart', {
  top: 47, bottom: 743, stepped: true,
  xRange: lhWaveRange, yRange: lhFluxRange, xTicks: lhWaveTicks, yTicks: lhFluxTicks,
  lines: lhLines,
  series: [lhOutburst, lhQuiescence],
  frame: {
    xMajor: 1, xMinor: 0.1, yMajor: 0.2, yMinor: 0.05,
    title: 'LH module', titleY: 26, yTitleY: 433,
    labels: [
      { text: 'OUTBURST (A08)', x: 20.506, y: 4.208 },
      { text: 'QUIESCENCE (S05) + 2.9 Jy', x: 20.506, y: 3.858 }
    ]
  }
});
</script>
</body>
</html>
